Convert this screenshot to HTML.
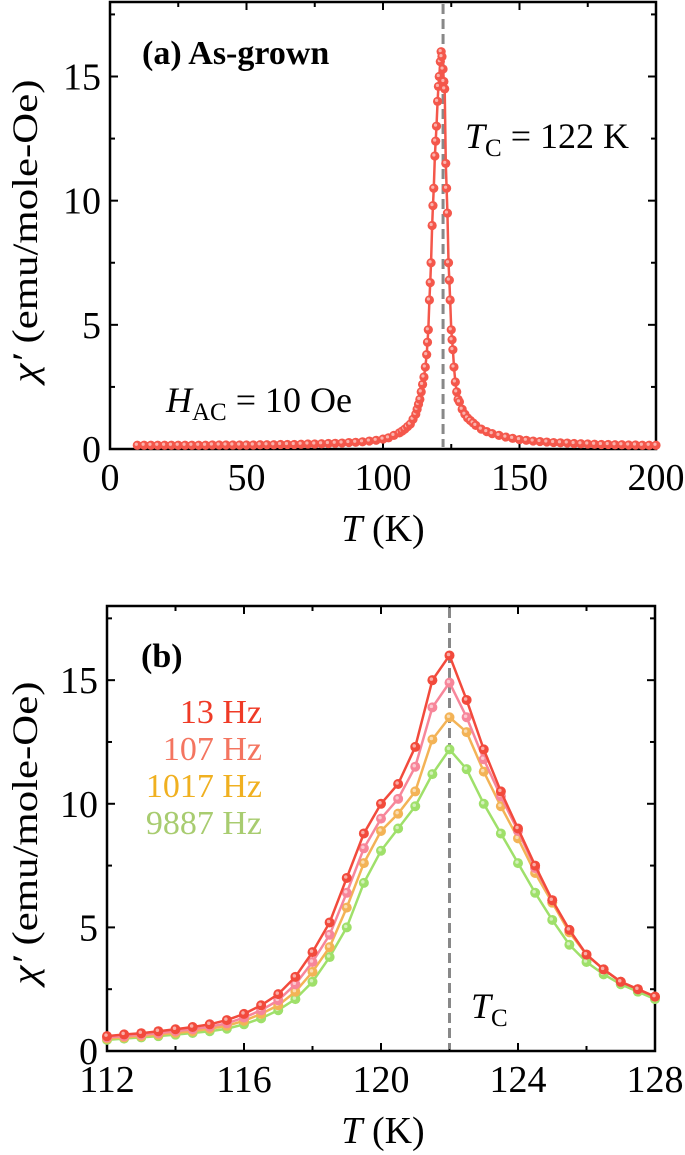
<!DOCTYPE html>
<html><head><meta charset="utf-8">
<style>
body{margin:0;background:#fff;}
svg{display:block;font-family:"Liberation Serif",serif;}
</style></head>
<body>
<svg id="fig" width="685" height="1155" viewBox="0 0 685 1155">
<defs>
<radialGradient id="ga0" cx="0.4" cy="0.35" r="0.7"><stop offset="0" stop-color="#ffd0c8"/><stop offset="0.5" stop-color="#f4574b"/><stop offset="1" stop-color="#f4574b"/></radialGradient>
</defs>
<g id="pa"></g>
<g id="pb"></g>
</svg>
<script>
// Panel (a) data
const aT = [10,12.5,15,17.5,20,22.5,25,27.5,30,32.5,35,37.5,40,42.5,45,47.5,50,52.5,55,57.5,60,62.5,65,67.5,70,72.5,75,77.5,80,82.5,85,87.5,90,92.5,95,97.5,100,102,104,106,107,108,109,110,111,112,112.5,113,113.5,114,114.5,115,115.5,116,116.3,116.6,117,117.3,117.6,118,118.3,118.6,119,119.3,119.6,120,120.3,120.6,121,121.3,121.6,122,122.3,122.6,123,123.3,123.6,124,124.3,124.6,125,125.3,125.6,126,126.5,127,127.5,128,129,130,131,132,133,134,136,138,140,142.5,145,147.5,150,152.5,155,157.5,160,162.5,165,167.5,170,172.5,175,177.5,180,182.5,185,187.5,190,192.5,195,197.5,200];
const aChi = [0.15,0.15,0.15,0.15,0.15,0.15,0.15,0.15,0.15,0.15,0.15,0.16,0.16,0.16,0.16,0.16,0.16,0.16,0.17,0.17,0.17,0.18,0.18,0.18,0.19,0.2,0.2,0.21,0.22,0.23,0.24,0.26,0.27,0.29,0.32,0.35,0.4,0.45,0.55,0.65,0.72,0.8,0.9,1.0,1.2,1.4,1.6,1.8,2.0,2.3,2.6,2.9,3.3,3.8,4.3,4.8,6.0,6.7,7.5,9.0,9.8,10.5,11.8,12.4,13.0,14.0,14.6,15.0,15.6,16.0,15.8,15.3,14.8,14.5,11.5,10.5,9.5,7.5,6.8,6.0,4.8,4.4,4.0,3.3,2.7,2.3,2.0,1.9,1.6,1.4,1.25,1.15,1.05,0.95,0.8,0.7,0.62,0.55,0.48,0.43,0.38,0.35,0.32,0.3,0.28,0.26,0.25,0.24,0.22,0.21,0.2,0.19,0.18,0.18,0.17,0.17,0.16,0.16,0.15,0.15,0.15];
const aXTicks = [0,50,100,150,200];
const aYTicks = [0,5,10,15];

// Panel (b) data
const bT = [112,112.5,113,113.5,114,114.5,115,115.5,116,116.5,117,117.5,118,118.5,119,119.5,120,120.5,121,121.5,122,122.5,123,123.5,124,124.5,125,125.5,126,126.5,127,127.5,128];
const b13 = [0.6,0.67,0.72,0.8,0.88,0.97,1.08,1.25,1.5,1.85,2.3,3.0,4.0,5.2,7.0,8.8,10.0,10.8,12.3,15.0,16.0,14.2,12.2,10.5,9.0,7.5,6.1,4.9,3.9,3.3,2.8,2.5,2.2];
const b107 = [0.55,0.6,0.66,0.72,0.8,0.88,0.98,1.12,1.35,1.65,2.05,2.7,3.6,4.7,6.4,8.2,9.4,10.2,11.5,13.9,14.9,13.5,11.8,10.3,8.9,7.4,6.1,4.9,3.9,3.3,2.8,2.5,2.2];
const b1017 = [0.5,0.55,0.6,0.66,0.73,0.8,0.9,1.02,1.22,1.5,1.85,2.4,3.2,4.2,5.8,7.6,8.9,9.6,10.5,12.6,13.5,12.9,11.3,9.9,8.6,7.2,6.0,4.8,3.9,3.3,2.8,2.5,2.2];
const b9887 = [0.45,0.5,0.55,0.6,0.66,0.73,0.8,0.9,1.08,1.32,1.65,2.1,2.8,3.8,5.0,6.8,8.1,9.0,9.9,11.2,12.2,11.4,10.0,8.8,7.6,6.4,5.3,4.3,3.6,3.1,2.7,2.4,2.1];
const bXTicks = [112,116,120,124,128];
const bYTicks = [0,5,10,15];
const legendLabels = ["13 Hz","107 Hz","1017 Hz","9887 Hz"];
const tc = 122;

const NS="http://www.w3.org/2000/svg";
function mk(parent,tag,attrs,text){const e=document.createElementNS(NS,tag);for(const k in attrs)e.setAttribute(k,attrs[k]);if(text!==undefined)e.textContent=text;parent.appendChild(e);return e;}

function axes(g,x0,x1,y0,y1,xmin,xmax,ymax,xt,yt,xminor,yminor){
  const sx=v=>x0+(v-xmin)/(xmax-xmin)*(x1-x0);
  const sy=v=>y1-v/ymax*(y1-y0);
  const fr=mk(g,'rect',{x:x0,y:y0,width:x1-x0,height:y1-y0,fill:'none',stroke:'#000','stroke-width':2.5});
  
  
  xt.forEach(v=>{
    mk(g,'line',{x1:sx(v),x2:sx(v),y1:y1,y2:y1-8,stroke:'#000','stroke-width':2});
    mk(g,'line',{x1:sx(v),x2:sx(v),y1:y0,y2:y0+8,stroke:'#000','stroke-width':2});
    const t=mk(g,'text',{x:sx(v),y:y1+41,'font-size':38,'text-anchor':'middle'},v);
    
    
  });
  xminor.forEach(v=>{
    mk(g,'line',{x1:sx(v),x2:sx(v),y1:y1,y2:y1-5,stroke:'#000','stroke-width':2});
    mk(g,'line',{x1:sx(v),x2:sx(v),y1:y0,y2:y0+5,stroke:'#000','stroke-width':2});
  });
  yt.forEach(v=>{
    mk(g,'line',{x1:x0,x2:x0+8,y1:sy(v),y2:sy(v),stroke:'#000','stroke-width':2});
    mk(g,'line',{x1:x1,x2:x1-8,y1:sy(v),y2:sy(v),stroke:'#000','stroke-width':2});
    const t=mk(g,'text',{x:x0-9,y:sy(v)+13,'font-size':38,'text-anchor':'end'},v);
    
    
  });
  yminor.forEach(v=>{
    mk(g,'line',{x1:x0,x2:x0+5,y1:sy(v),y2:sy(v),stroke:'#000','stroke-width':2});
    mk(g,'line',{x1:x1,x2:x1-5,y1:sy(v),y2:sy(v),stroke:'#000','stroke-width':2});
  });
  return {sx,sy};
}

function series(g,T,Y,sx,sy,col,name,r){
  const grp=mk(g,'g',{});
  
  
  mk(grp,'polyline',{points:T.map((t,i)=>sx(t)+','+sy(Y[i])).join(' '),fill:'none',stroke:col,'stroke-width':2.5});
  T.forEach((t,i)=>{
    const c=mk(grp,'circle',{cx:sx(t),cy:sy(Y[i]),r:r,fill:col});
    
    
    mk(grp,'circle',{cx:sx(t)-1,cy:sy(Y[i])-1,r:r*0.35,fill:'#fff','fill-opacity':0.55});
  });
}

// Panel a
const ga=document.getElementById('pa');
const A=axes(ga,110,656,2,449,0,200,18,aXTicks,aYTicks,[25,75,125,175],[2.5,7.5,12.5,17.5]);
const da=mk(ga,'line',{x1:A.sx(tc),x2:A.sx(tc),y1:4,y2:447,stroke:'#888','stroke-width':3,'stroke-dasharray':'10,5'});


series(ga,aT,aChi,A.sx,A.sy,'#f4574b','series-as-grown',4.6);
const ta=mk(ga,'text',{x:142,y:64,'font-size':34,'font-weight':'bold'},'(a)  As-grown');


mk(ga,'text',{x:465,y:148,'font-size':36},'').innerHTML='<tspan font-style="italic">T</tspan><tspan font-size="25" dy="8">C</tspan><tspan dy="-8"> = 122 K</tspan>';
mk(ga,'text',{x:166,y:412,'font-size':36},'').innerHTML='<tspan font-style="italic">H</tspan><tspan font-size="25" dy="8">AC</tspan><tspan dy="-8"> = 10 Oe</tspan>';
mk(ga,'text',{x:383,y:541,'font-size':38,'text-anchor':'middle'},'').innerHTML='<tspan font-style="italic">T</tspan> (K)';
mk(ga,'text',{transform:'translate(37,231) rotate(-90)','font-size':36,'text-anchor':'middle',textLength:303,lengthAdjust:'spacingAndGlyphs'},'').innerHTML='<tspan font-style="italic">χ′</tspan> (emu/mole-Oe)';

// Panel b
const gb=document.getElementById('pb');
const B=axes(gb,107,655,606,1051,112,128,18,bXTicks,bYTicks,[114,118,122,126],[2.5,7.5,12.5,17.5]);
const db=mk(gb,'line',{x1:B.sx(tc),x2:B.sx(tc),y1:608,y2:1049,stroke:'#888','stroke-width':3,'stroke-dasharray':'10,5'});


const cols=['#f24a3c','#f7869a','#f3b356','#9fe06a'];
[b9887,b1017,b107,b13].forEach((d,i)=>series(gb,bT,d,B.sx,B.sy,cols[3-i],'series-'+legendLabels[3-i].replace(' ','-').toLowerCase(),5));
const tb=mk(gb,'text',{x:141,y:667,'font-size':34,'font-weight':'bold'},'(b)');


const lcols=['#ef3a26','#f47560','#f0b020','#a8cc70'];
legendLabels.forEach((l,i)=>{
  const t=mk(gb,'text',{x:262,y:723+i*37,'font-size':34,'text-anchor':'end',fill:lcols[i]},l);
  
  
});
mk(gb,'text',{x:471,y:1018,'font-size':36},'').innerHTML='<tspan font-style="italic">T</tspan><tspan font-size="25" dy="8">C</tspan>';
mk(gb,'text',{x:383,y:1143,'font-size':38,'text-anchor':'middle'},'').innerHTML='<tspan font-style="italic">T</tspan> (K)';
mk(gb,'text',{transform:'translate(37,833) rotate(-90)','font-size':36,'text-anchor':'middle',textLength:303,lengthAdjust:'spacingAndGlyphs'},'').innerHTML='<tspan font-style="italic">χ′</tspan> (emu/mole-Oe)';
</script>
</body></html>
